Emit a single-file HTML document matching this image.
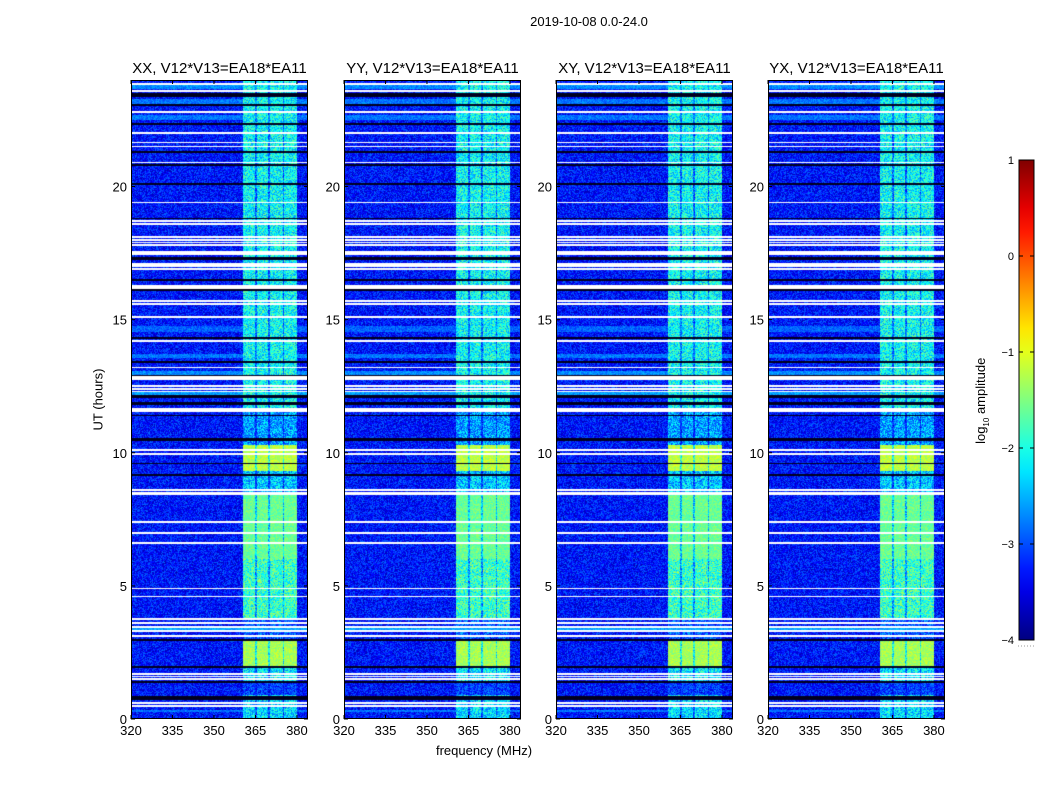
<!DOCTYPE html>
<html><head><meta charset="utf-8">
<style>
body{margin:0;background:#fff;width:1050px;height:800px;overflow:hidden;font-family:"Liberation Sans",sans-serif;}
#root{position:relative;width:1050px;height:800px;}
.t{position:absolute;font-size:13px;color:#000;white-space:nowrap;}
canvas{position:absolute;}
</style></head>
<body>
<div id="root">
<div class="t" style="left:489px;top:14px;width:200px;text-align:center;">2019-10-08 0.0-24.0</div>
<div class="t" style="left:384px;top:743px;width:200px;text-align:center;">frequency (MHz)</div>
<div class="t" style="left:48px;top:392px;width:100px;text-align:center;transform:rotate(-90deg);">UT (hours)</div>
<div class="t" style="left:922px;top:392px;width:120px;text-align:center;transform:rotate(-90deg);">log<sub style="font-size:8px">10</sub> amplitude</div>
<svg id="svg" width="1050" height="800" style="position:absolute;left:0;top:0"></svg>
</div>
<script>
// ---- data ----
const panelTitles = ["XX, V12*V13=EA18*EA11","YY, V12*V13=EA18*EA11","XY, V12*V13=EA18*EA11","YX, V12*V13=EA18*EA11"];
const xTicks = [320,335,350,365,380];
const yTicks = [0,5,10,15,20];
const cbTicks = [1,0,-1,-2,-3,-4];
const backgroundLevel = -3.3;
// sub-band edges (MHz) of the bright block
const subBandStart = [360.5,365.5,370.3,375.2];
const subBandEnd   = [364.8,369.7,374.9,380.0];
// band brightness versus time: [startHour, endHour, log10 amplitude]
const bandStart = [0.0,0.9,1.4,1.9,2.95,3.8,6.0,8.5,9.3,10.3,11.6,16.0];
const bandEnd   = [0.9,1.4,1.9,2.95,3.8,6.0,8.5,9.3,10.3,11.6,16.0,24.0];
const bandLevel = [-2.3,-3.2,-2.2,-1.3,-3.0,-1.85,-1.6,-2.4,-1.2,-2.6,-2.1,-2.1];
// flagged (white) rows in hours and their thickness in hours
const whiteRows = [23.85,23.6,22.8,22.0,21.65,21.5,21.3,20.9,19.4,18.7,18.6,18.1,18.0,17.9,17.8,17.5,17.1,17.0,16.9,16.2,15.7,15.6,15.1,14.2,13.2,12.8,12.5,12.4,12.3,11.6,10.1,9.95,8.6,8.5,8.45,7.4,7.0,6.6,4.9,4.6,3.75,3.6,3.45,3.3,3.1,1.7,1.6,1.5,0.6,0.5];
const whiteThick = [0.03,0.03,0.03,0.03,0.03,0.03,0.03,0.03,0.03,0.03,0.03,0.03,0.03,0.03,0.03,0.12,0.03,0.03,0.03,0.14,0.03,0.03,0.03,0.03,0.03,0.12,0.03,0.03,0.03,0.13,0.03,0.03,0.03,0.03,0.03,0.03,0.03,0.03,0.03,0.03,0.04,0.04,0.06,0.04,0.04,0.03,0.03,0.03,0.03,0.03];
// flagged (black) rows in hours and thickness
const blackRows = [23.45,23.05,22.35,21.3,20.8,20.1,18.8,17.3,16.5,16.1,14.3,13.4,12.9,12.1,11.85,11.4,10.5,9.6,9.15,2.95,1.95,1.4,0.8];
const blackThick = [0.12,0.03,0.06,0.03,0.03,0.03,0.03,0.08,0.03,0.03,0.03,0.03,0.03,0.08,0.06,0.03,0.06,0.03,0.03,0.04,0.03,0.04,0.12];
// rows of elevated broadband level: [hour, thickness, level]
const brightRows = [23.75,23.2,22.6,14.65,13.65,13.0,12.2,3.38,0.3];
const brightThick = [0.15,0.2,0.2,0.25,0.15,0.15,0.15,0.15,0.1];
const brightLevel = [-2.7,-2.8,-2.8,-2.9,-2.8,-2.7,-2.6,-2.6,-2.8];

// ---- layout ----
const panelX = [131,344,556,768];
const PW = 177, PT = 80, PB = 719;
const fMin = 320, fMax = 384, hMin = 0, hMax = 24;
function xScale(f){return (f-fMin)/(fMax-fMin)*PW;}
function yScale(h){return PB - (h-hMin)/(hMax-hMin)*(PB-PT);}
function yInv(y){return hMin + (PB-y)/(PB-PT)*(hMax-hMin);}
function fInv(x){return fMin + x/PW*(fMax-fMin);}
const cbX=1019,cbW=15,cbTop=160,cbBot=640,vMin=-4,vMax=1;
function cbScale(v){return cbBot-(v-vMin)/(vMax-vMin)*(cbBot-cbTop);}

function clamp(v){return Math.max(0,Math.min(1,v));}
function jet(t){t=clamp(t);return [clamp(1.5-Math.abs(4*t-3)),clamp(1.5-Math.abs(4*t-2)),clamp(1.5-Math.abs(4*t-1))];}
function hash(a,b,c){let h=(a*374761393+b*668265263+c*2147483647)|0;h=(h^(h>>>13))*1274126177;h=h^(h>>>16);return ((h>>>0)%10000)/10000;}

const root=document.getElementById('root');
const svg=document.getElementById('svg');
const NS='http://www.w3.org/2000/svg';
function mk(tag,attrs,parent){const e=document.createElementNS(NS,tag);for(const k in attrs)e.setAttribute(k,attrs[k]);(parent||svg).appendChild(e);return e;}

function cellValue(f,h,x,y,p){
  let n=(hash(x,y,p)-0.5);
  let n2=(hash(y,x+7,p+3)-0.5);
  let v=backgroundLevel+n*0.9;
  for(let i=0;i<brightRows.length;i++) if(Math.abs(h-brightRows[i])<brightThick[i]/2) v=brightLevel[i]+n*0.5;
  let inBand=false;
  for(let i=0;i<subBandStart.length;i++) if(f>=subBandStart[i]&&f<=subBandEnd[i]) inBand=true;
  if(f>=subBandStart[0]&&f<=subBandEnd[subBandEnd.length-1]){
    let lvl=backgroundLevel;
    for(let i=0;i<bandStart.length;i++) if(h>=bandStart[i]&&h<bandEnd[i]) lvl=bandLevel[i];
    if(!inBand) lvl-=0.8;
    const bv=lvl+n2*(lvl>-1.7?0.5:1.2);
    if(bv>v) v=bv;
  }
  return v;
}

function rowSpan(h,th){const y0=Math.floor(yScale(h+th/2)-PT);const y1=Math.max(y0,Math.ceil(yScale(h-th/2)-PT)-1);return [y0,y1];}

panelX.forEach((px,p)=>{
  const cv=document.createElement('canvas');
  cv.width=PW;cv.height=PB-PT;
  cv.style.left=px+'px';cv.style.top=PT+'px';
  
  
  root.insertBefore(cv,svg);
  const ctx=cv.getContext('2d');
  const H=PB-PT;
  const flags=new Array(H).fill(0);
  whiteRows.forEach((h,i)=>{const s=rowSpan(h,whiteThick[i]);for(let y=s[0];y<=s[1];y++)if(y>=0&&y<H)flags[y]=1;});
  blackRows.forEach((h,i)=>{const s=rowSpan(h,blackThick[i]);for(let y=s[0];y<=s[1];y++)if(y>=0&&y<H)flags[y]=2;});
  const img=ctx.createImageData(PW,H);
  for(let y=0;y<H;y++){
    const h=yInv(y+PT+0.5);
    const flag=flags[y];
    for(let x=0;x<PW;x++){
      const k=(y*PW+x)*4;
      let c;
      if(flag===1)c=[1,1,1];
      else if(flag===2)c=[0,0,0.12];
      else{const f=fInv(x+0.5);c=jet((cellValue(f,h,x,y,p)-vMin)/(vMax-vMin));}
      img.data[k]=c[0]*255;img.data[k+1]=c[1]*255;img.data[k+2]=c[2]*255;img.data[k+3]=255;
    }
  }
  ctx.putImageData(img,0,0);
  const g=mk('g',{});
  
  
  const fr=mk('rect',{x:px+0.5,y:PT+0.5,width:PW-1,height:PB-PT-1,fill:'none',stroke:'#000','stroke-width':1},g);
  
  
  const tt=mk('text',{x:px+PW/2,y:73,'text-anchor':'middle','font-size':15,'font-family':'Liberation Sans, sans-serif'},g);
  tt.textContent=panelTitles[p];
  
  
  xTicks.forEach(v=>{
    const x=px+xScale(v);
    mk('line',{x1:x,x2:x,y1:PB,y2:PB-4,stroke:'#000'},g);
    mk('line',{x1:x,x2:x,y1:PT,y2:PT+4,stroke:'#000'},g);
    const t=mk('text',{x:x,y:PB+16,'text-anchor':'middle','font-size':13,'font-family':'Liberation Sans, sans-serif'},g);
    t.textContent=v;
    
    
  });
  yTicks.forEach(v=>{
    const y=yScale(v);
    mk('line',{x1:px,x2:px+4,y1:y,y2:y,stroke:'#000'},g);
    mk('line',{x1:px+PW,x2:px+PW-4,y1:y,y2:y,stroke:'#000'},g);
    const t=mk('text',{x:px-4,y:y+5,'text-anchor':'end','font-size':13,'font-family':'Liberation Sans, sans-serif'},g);
    t.textContent=v;
    
    
  });
});

// colorbar
const defs=mk('defs',{});
const lg=mk('linearGradient',{id:'jetg',x1:0,y1:1,x2:0,y2:0},defs);
for(let i=0;i<=20;i++){const c=jet(i/20);mk('stop',{offset:(i/20),'stop-color':`rgb(${c.map(v=>Math.round(v*255)).join(',')})`},lg);}
const cb=mk('rect',{x:cbX,y:cbTop,width:cbW,height:cbBot-cbTop,fill:'url(#jetg)',stroke:'#000','stroke-width':1});


cbTicks.forEach(v=>{
  const y=cbScale(v);
  mk('line',{x1:cbX,x2:cbX+4,y1:y,y2:y,stroke:'#000'});
  mk('line',{x1:cbX+cbW,x2:cbX+cbW-4,y1:y,y2:y,stroke:'#000'});
  const t=mk('text',{x:cbX-5,y:y+4,'text-anchor':'end','font-size':11,'font-family':'Liberation Sans, sans-serif'});
  t.textContent=v<0?'\u2212'+(-v):v;
  
  
});
mk('line',{x1:1018,x2:1035,y1:646,y2:646,stroke:'#999','stroke-dasharray':'1,2'});
</script>
</body></html>
